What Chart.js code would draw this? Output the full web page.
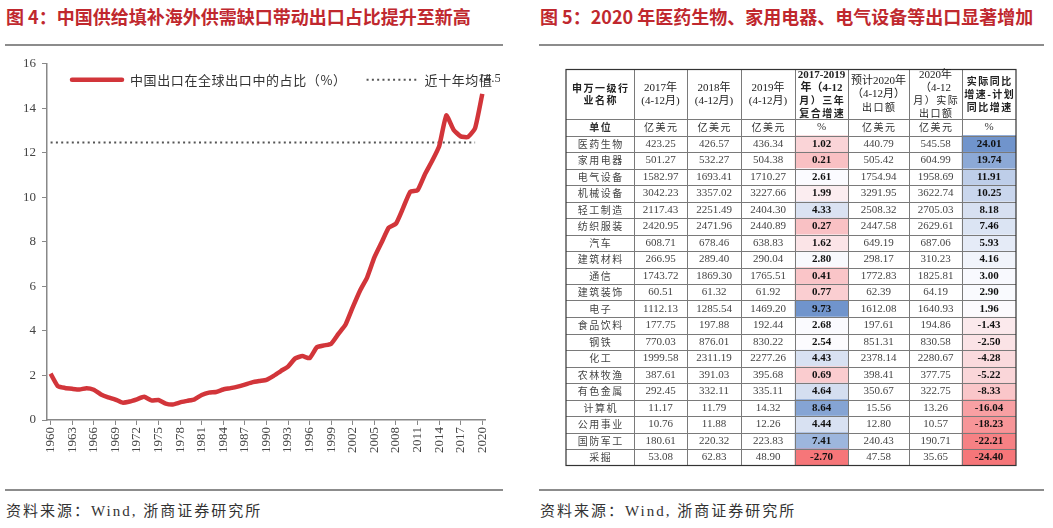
<!DOCTYPE html>
<html>
<head>
<meta charset="utf-8">
<script src="https://cdn.jsdelivr.net/npm/chart.js@4.4.1/dist/chart.umd.min.js"></script>
<style>
  body { margin: 0; width: 1053px; height: 528px; position: relative; background: #fff; overflow: hidden; }
  .title { position: absolute; font-family: "Noto Sans CJK SC", sans-serif; font-weight: bold; font-size: 18px; color: #C0282E; white-space: nowrap; line-height: 20px; }
  .rule { position: absolute; height: 0; border-top: 2px solid #8c8c8c; }
  .src { position: absolute; font-family: "Liberation Serif", "Noto Sans CJK SC", serif; font-size: 15px; color: #333; letter-spacing: 2px; white-space: nowrap; }
  canvas { position: absolute; }
</style>
</head>
<body>
<div class="title" style="left:6px;top:6px">图 4：中国供给填补海外供需缺口带动出口占比提升至新高</div>
<div class="rule" style="left:5px;top:44px;width:498px"></div>
<canvas id="lineChart" width="500" height="420" style="left:0;top:50px"></canvas>
<div class="rule" style="left:5px;top:489px;width:498px"></div>
<div class="src" style="left:6px;top:499px">资料来源：Wind, 浙商证券研究所</div>

<div class="title" style="left:540px;top:6px">图 5：2020 年医药生物、家用电器、电气设备等出口显著增加</div>
<div class="rule" style="left:539px;top:44px;width:505px"></div>
<canvas id="tableChart" width="452" height="431" style="left:565px;top:52px"></canvas>
<div class="rule" style="left:539px;top:489px;width:505px"></div>
<div class="src" style="left:540px;top:499px">资料来源：Wind, 浙商证券研究所</div>

<script>
// ---- left chart: China's share of world exports ----
const years = Array.from({ length: 61 }, (_, i) => String(1960 + i));
const shareValues = [
  2.08, 1.52, 1.44, 1.40, 1.37, 1.43, 1.36, 1.15, 1.02, 0.92,
  0.78, 0.83, 0.93, 1.04, 0.88, 0.90, 0.74, 0.70, 0.79, 0.86,
  0.93, 1.12, 1.23, 1.26, 1.37, 1.43, 1.50, 1.59, 1.69, 1.75,
  1.80, 1.98, 2.20, 2.40, 2.77, 2.87, 2.78, 3.27, 3.35, 3.43,
  3.87, 4.29, 5.07, 5.81, 6.41, 7.30, 7.97, 8.64, 8.82, 9.53,
  10.26, 10.32, 11.02, 11.62, 12.29, 13.68, 13.04, 12.74, 12.71, 13.11,
  14.65
];
const meanValue = 12.46;
const meanFrom = '1960';
const meanTo = '2019';
const seriesName = '中国出口在全球出口中的占比（%）';
const meanName = '近十年均值';
const endLabel = '14.5';

// ---- right table: export by industry ----
const industries = ['医药生物', '家用电器', '电气设备', '机械设备', '轻工制造', '纺织服装', '汽车', '建筑材料', '通信', '建筑装饰',
  '电子', '食品饮料', '钢铁', '化工', '农林牧渔', '有色金属', '计算机', '公用事业', '国防军工', '采掘'];
const exp2017 = [423.25, 501.27, 1582.97, 3042.23, 2117.43, 2420.95, 608.71, 266.95, 1743.72, 60.51,
  1112.13, 177.75, 770.03, 1999.58, 387.61, 292.45, 11.17, 10.76, 180.61, 53.08];
const exp2018 = [426.57, 532.27, 1693.41, 3357.02, 2251.49, 2471.96, 678.46, 289.40, 1869.30, 61.32,
  1285.54, 197.88, 876.01, 2311.19, 391.03, 332.11, 11.79, 11.88, 220.32, 62.83];
const exp2019 = [436.34, 504.38, 1710.27, 3227.66, 2404.30, 2440.89, 638.83, 290.04, 1765.51, 61.92,
  1469.20, 192.44, 830.22, 2277.26, 395.68, 335.11, 14.32, 12.26, 223.83, 48.90];
const cagr = [1.02, 0.21, 2.61, 1.99, 4.33, 0.27, 1.62, 2.80, 0.41, 0.77,
  9.73, 2.68, 2.54, 4.43, 0.69, 4.64, 8.64, 4.44, 7.41, -2.70];
const plan2020 = [440.79, 505.42, 1754.94, 3291.95, 2508.32, 2447.58, 649.19, 298.17, 1772.83, 62.39,
  1612.08, 197.61, 851.31, 2378.14, 398.41, 350.67, 15.56, 12.80, 240.43, 47.58];
const actual2020 = [545.58, 604.99, 1958.69, 3622.74, 2705.03, 2629.61, 687.06, 310.23, 1825.81, 64.19,
  1640.93, 194.86, 830.58, 2280.67, 377.75, 322.75, 13.26, 10.57, 190.71, 35.65];
const gap = [24.01, 19.74, 11.91, 10.25, 8.18, 7.46, 5.93, 4.16, 3.00, 2.90,
  1.96, -1.43, -2.50, -4.28, -5.22, -8.33, -16.04, -18.23, -22.21, -24.40];

const headerLines = [
  ['申万一级行', '业名称'],
  ['2017年', '(4-12月)'],
  ['2018年', '(4-12月)'],
  ['2019年', '(4-12月)'],
  ['2017-2019', '年（4-12', '月）三年', '复合增速'],
  ['预计2020年', '（4-12月）', '出口额'],
  ['2020年', '（4-12', '月）实际', '出口额'],
  ['实际同比', '增速-计划', '同比增速']
];
const headerBold = [true, false, false, false, true, false, false, true];
const units = ['单位', '亿美元', '亿美元', '亿美元', '%', '亿美元', '亿美元', '%'];

// table layout (in table units: x = px from table left, y = row units)
const colEdges = [0, 68, 121, 175, 229, 282, 343, 396, 450];
const headerRows = 3;
const totalRows = 24;

const SERIF = '"Liberation Serif", "Noto Sans CJK SC", serif';
const CJK = '"Noto Sans CJK SC", sans-serif';

// legend drawn inside the plot, one row along the top
const insideLegend = {
  id: 'insideLegend',
  afterDatasetsDraw(chart) {
    const { ctx, chartArea } = chart;
    const y = chartArea.top + 16;
    let x = chartArea.left + 25;
    ctx.save();
    ctx.font = '13px ' + CJK;
    ctx.letterSpacing = '0.6px';
    ctx.textBaseline = 'middle';
    ctx.textAlign = 'left';
    chart.data.datasets.forEach((ds) => {
      ctx.beginPath();
      ctx.strokeStyle = ds.borderColor;
      ctx.lineWidth = ds.borderWidth;
      ctx.lineCap = ds.borderDash ? 'butt' : 'round';
      ctx.setLineDash(ds.borderDash || []);
      ctx.moveTo(x, y);
      ctx.lineTo(x + 50, y);
      ctx.stroke();
      ctx.setLineDash([]);
      ctx.fillStyle = '#333';
      ctx.fillText(ds.label, x + 58, y);
      x += 58 + ctx.measureText(ds.label).width + 20;
    });
    ctx.restore();
  }
};

const endLabelPlugin = {
  id: 'endLabel',
  afterDatasetsDraw(chart) {
    const meta = chart.getDatasetMeta(0);
    const pt = meta.data[meta.data.length - 1];
    const ctx = chart.ctx;
    ctx.save();
    ctx.font = '13px ' + SERIF;
    ctx.fillStyle = '#333';
    ctx.textAlign = 'left';
    ctx.textBaseline = 'middle';
    ctx.fillText(endLabel, pt.x - 4, pt.y - 15);
    ctx.restore();
  }
};

new Chart(document.getElementById('lineChart'), {
  type: 'line',
  data: {
    labels: years,
    datasets: [
      {
        label: seriesName,
        data: shareValues,
        borderColor: '#D2353A',
        backgroundColor: '#D2353A',
        borderWidth: 4.5,
        pointRadius: 0,
        tension: 0.15,
        borderJoinStyle: 'round'
      },
      {
        label: meanName,
        data: [{ x: meanFrom, y: meanValue }, { x: meanTo, y: meanValue }],
        borderColor: '#555',
        backgroundColor: '#555',
        borderWidth: 2,
        borderDash: [2, 3.3],
        pointRadius: 0
      }
    ]
  },
  options: {
    responsive: false,
    animation: false,
    layout: { padding: { left: 7, right: 13, top: 10, bottom: 0 } },
    plugins: {
      tooltip: { enabled: false },
      legend: { display: false }
    },
    scales: {
      x: {
        offset: true,
        grid: { drawOnChartArea: false, tickLength: 5, color: '#888', offset: false },
        border: { color: '#888', width: 1.5 },
        ticks: {
          autoSkip: false,
          minRotation: 90,
          maxRotation: 90,
          padding: 2,
          color: '#444',
          font: { family: SERIF, size: 13 },
          callback: (v, i) => (i % 3 === 0 ? years[i] : null)
        },
        afterFit: (s) => { s.height = 50; }
      },
      y: {
        min: 0,
        max: 16,
        grid: { drawOnChartArea: false, tickLength: 5, color: '#888' },
        border: { color: '#888', width: 1.5 },
        ticks: { stepSize: 2, padding: 6, color: '#444', font: { family: SERIF, size: 13 } },
        afterFit: (s) => { s.width = 40; }
      }
    }
  },
  plugins: [insideLegend, endLabelPlugin]
});

// colour scale: red - white - blue around the median, like a spreadsheet 3-colour rule
const RED = [246, 118, 121];
const WHITE = [252, 252, 255];
const BLUE = [112, 148, 204];
function cellColor(v, list) {
  const s = [...list].sort((a, b) => a - b);
  const n = s.length;
  const mid = n % 2 ? s[(n - 1) / 2] : (s[n / 2 - 1] + s[n / 2]) / 2;
  let t, c;
  if (v >= mid) { t = (v - mid) / (s[n - 1] - mid); c = BLUE; }
  else { t = (mid - v) / (mid - s[0]); c = RED; }
  const mix = WHITE.map((w, k) => Math.round(w + (c[k] - w) * t));
  return `rgb(${mix[0]},${mix[1]},${mix[2]})`;
}

function drawCellText(ctx, text, x, y, bold, color) {
  const hasLatin = /[0-9%A-Za-z]/.test(text);
  ctx.font = (bold ? 'bold ' : '') + (hasLatin ? '11px ' + SERIF : '10px ' + CJK);
  const sp = hasLatin ? 0 : 1.5;
  ctx.letterSpacing = sp + 'px';
  ctx.fillStyle = color;
  ctx.fillText(text, x + sp / 2, y);
}

const tablePlugin = {
  id: 'tableText',
  afterDatasetsDraw(chart) {
    const { ctx, scales: { x, y } } = chart;
    ctx.save();
    // grid
    ctx.strokeStyle = '#7a7a7a';
    ctx.lineWidth = 1;
    const left = x.getPixelForValue(colEdges[0]);
    const right = x.getPixelForValue(colEdges[colEdges.length - 1]);
    const top = y.getPixelForValue(0);
    const bottom = y.getPixelForValue(totalRows);
    ctx.beginPath();
    for (let r = headerRows; r < totalRows; r++) {
      const py = Math.round(y.getPixelForValue(r)) + 0.5;
      ctx.moveTo(left, py); ctx.lineTo(right, py);
    }
    for (let c = 1; c < colEdges.length - 1; c++) {
      const px = Math.round(x.getPixelForValue(colEdges[c])) + 0.5;
      ctx.moveTo(px, top); ctx.lineTo(px, bottom);
    }
    ctx.stroke();
    ctx.strokeStyle = '#333';
    ctx.lineWidth = 1.2;
    ctx.strokeRect(left, top, right - left, bottom - top);

    // text
    ctx.textAlign = 'center';
    ctx.textBaseline = 'middle';
    const cx = (c) => x.getPixelForValue((colEdges[c] + colEdges[c + 1]) / 2);
    const lineH = 12.8;
    const hMid = y.getPixelForValue(headerRows / 2);
    headerLines.forEach((lines, c) => {
      lines.forEach((t, k) => {
        const py = hMid + (k - (lines.length - 1) / 2) * lineH;
        drawCellText(ctx, t, cx(c), py, headerBold[c], '#222');
      });
    });
    const uy = y.getPixelForValue(headerRows + 0.5);
    units.forEach((t, c) => drawCellText(ctx, t, cx(c), uy, c === 0, '#333'));

    const cols = [industries, exp2017, exp2018, exp2019, cagr, plan2020, actual2020, gap];
    industries.forEach((_, i) => {
      const py = y.getPixelForValue(headerRows + 1 + i + 0.5);
      cols.forEach((col, c) => {
        const v = col[i];
        const bold = c === 4 || c === 7;
        const txt = typeof v === 'number' ? v.toFixed(2) : v;
        drawCellText(ctx, txt, cx(c), py, bold, bold ? '#111' : '#444');
      });
    });
    ctx.restore();
  }
};

const firstDataRow = headerRows + 1;
new Chart(document.getElementById('tableChart'), {
  type: 'bar',
  data: {
    datasets: [
      {
        data: cagr.map((v, i) => ({ y: firstDataRow + i + 0.5, x: [colEdges[4], colEdges[5]] })),
        backgroundColor: cagr.map((v) => cellColor(v, cagr)),
        grouped: false
      },
      {
        data: gap.map((v, i) => ({ y: firstDataRow + i + 0.5, x: [colEdges[7], colEdges[8]] })),
        backgroundColor: gap.map((v) => cellColor(v, gap)),
        grouped: false
      }
    ]
  },
  options: {
    indexAxis: 'y',
    responsive: false,
    animation: false,
    layout: { padding: 1 },
    barPercentage: 1,
    categoryPercentage: 1,
    plugins: { legend: { display: false }, tooltip: { enabled: false } },
    scales: {
      x: { type: 'linear', min: colEdges[0], max: colEdges[colEdges.length - 1], display: false },
      y: { type: 'linear', min: 0, max: totalRows, reverse: true, display: false, ticks: { stepSize: 1 } }
    }
  },
  plugins: [tablePlugin]
});
</script>
</body>
</html>
